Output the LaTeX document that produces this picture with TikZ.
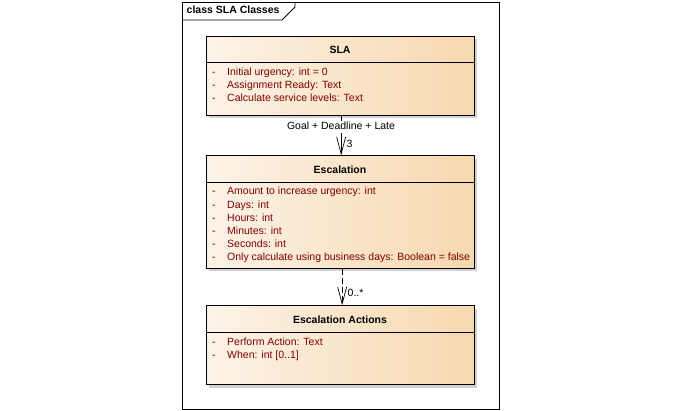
\documentclass[tikz,border=0pt]{standalone}
\usepackage{fontspec}
\setmainfont{Liberation Sans}
\usetikzlibrary{arrows.meta,shadows}
\definecolor{gradL}{HTML}{FCF3E8}
\definecolor{gradR}{HTML}{F6D8AE}
\definecolor{attr}{HTML}{800000}
\tikzset{
  classbox/.style={draw=black, line width=0.9pt, left color=gradL, right color=gradR,
    anchor=north west, minimum width=268pt, inner sep=0pt,
    drop shadow={shadow xshift=3pt, shadow yshift=-3pt, fill=black!18, opacity=1}},
  ctitle/.style={font=\fontsize{10.5}{12}\selectfont\bfseries, inner sep=0pt, text height=7.6pt, text depth=2.2pt},
  attrtxt/.style={font=\fontsize{10.5}{12}\selectfont, text=attr, anchor=west, inner sep=0pt, text height=7.6pt, text depth=2.2pt},
  lbl/.style={font=\fontsize{10.5}{12}\selectfont, inner sep=1pt, text height=7.6pt, text depth=2.2pt},
  sepline/.style={line width=0.9pt},
  conn/.style={line width=0.7pt, -{Straight Barb[length=17pt, width=9pt, line width=0.7pt]}},
}
\newcommand{\attrrow}[3]{%
  \node[attrtxt] (#1d) at (212,#2) {-};
  \node[attrtxt] (#1) at (227,#2) {#3};}
\begin{document}
\begin{tikzpicture}[x=1pt,y=-1pt]
\useasboundingbox (0,0) rectangle (680,410);
% frame
\draw[line width=0.8pt] (182,2) rectangle (499,409);
\coordinate (t1) at (182,20);
\coordinate (t2) at (282,20);
\coordinate (t3) at (295,7);
\coordinate (t4) at (295,2);
\draw[line width=0.8pt] (t1) -- (t2) -- (t3) -- (t4);
\node[ctitle, anchor=west] (frametitle) at (186.5,11) {class SLA Classes};

% SLA
\node[classbox, minimum height=78.5pt] (sla) at (206,36) {};
\draw[sepline] (206,62.3) -- (474,62.3);
\node[ctitle] (slat) at (340,50.7) {SLA};
\attrrow{sa1}{72.3}{Initial urgency: int = 0}
\attrrow{sa2}{85.7}{Assignment Ready: Text}
\attrrow{sa3}{98.8}{Calculate service levels: Text}

% Escalation
\node[classbox, minimum height=112.3pt] (esc) at (206,155.3) {};
\draw[sepline] (206,182.3) -- (474,182.3);
\node[ctitle] (esct) at (340,171) {Escalation};
\attrrow{ea1}{192}{Amount to increase urgency: int}
\attrrow{ea2}{205.7}{Days: int}
\attrrow{ea3}{218.5}{Hours: int}
\attrrow{ea4}{231.7}{Minutes: int}
\attrrow{ea5}{245}{Seconds: int}
\attrrow{ea6}{257.8}{Only calculate using business days: Boolean = false}

% Escalation Actions
\node[classbox, minimum height=79pt] (act) at (206,305.3) {};
\draw[sepline] (206,332.3) -- (474,332.3);
\node[ctitle] (actt) at (340,320.7) {Escalation Actions};
\attrrow{aa1}{342.3}{Perform Action: Text}
\attrrow{aa2}{355.7}{When: int [0..1]}

% connectors
\draw[conn] ([xshift=0.7pt]sla.south) -- ([xshift=0.7pt]esc.north);
\node[lbl, fill=white] (l1) at (341,127) {Goal + Deadline + Late};
\node[lbl, anchor=west] (l2) at (345.5,144.5) {3};
\draw[conn, dash pattern=on 6pt off 3pt] ([xshift=1.7pt]esc.south) -- ([xshift=1.7pt]act.north);
\node[lbl, anchor=west] (l3) at (346.5,294) {0..*};
\end{tikzpicture}
\end{document}
